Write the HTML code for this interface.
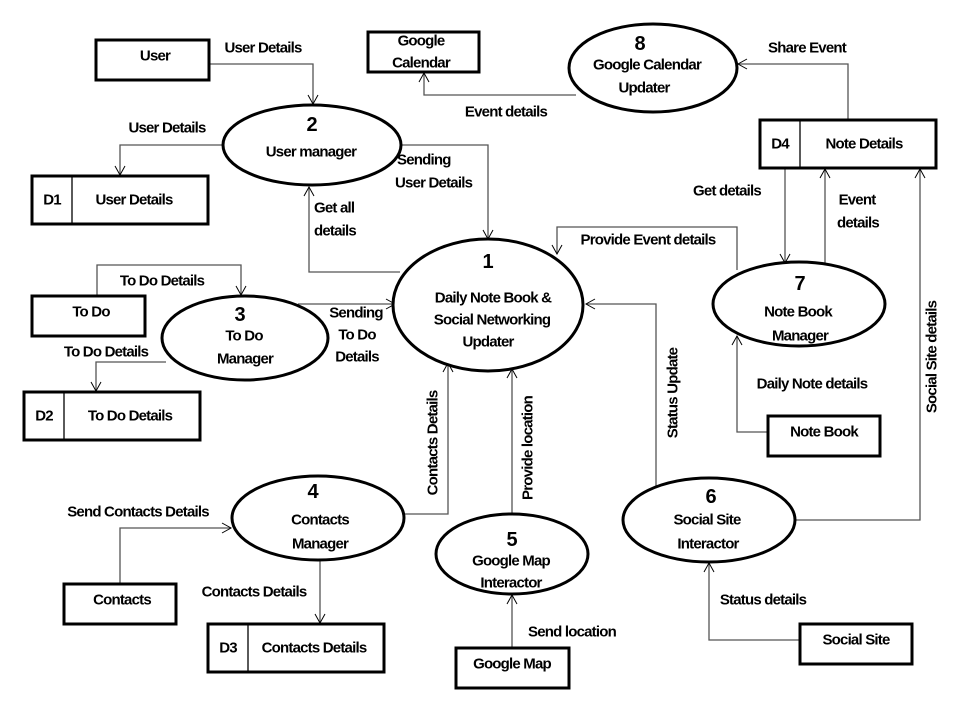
<!DOCTYPE html>
<html><head><meta charset="utf-8"><style>
html,body{margin:0;padding:0;background:#fff;}
svg{display:block;}
text{font-family:"Liberation Sans",sans-serif;font-weight:bold;font-size:15px;letter-spacing:-0.8px;fill:#000;dominant-baseline:central;text-anchor:middle;}
.n{font-size:20px;letter-spacing:0;}
.l{text-anchor:start;}
</style></head><body>
<svg width="960" height="720" viewBox="0 0 960 720" xmlns="http://www.w3.org/2000/svg">
<defs><marker id="a" markerWidth="12" markerHeight="12" refX="10" refY="6" orient="auto" markerUnits="userSpaceOnUse"><path d="M1,1 L10,6 L1,11" fill="none" stroke="#000" stroke-width="1"/></marker></defs>
<g fill="none" stroke="#555" stroke-width="1.3" marker-end="url(#a)">
<polyline points="209,64 313,64 313,104"/>
<polyline points="576,95 424,95 424,73"/>
<polyline points="848,120 848,64 738,64"/>
<polyline points="224,145 120,145 120,175"/>
<polyline points="401,145 488,145 488,239"/>
<polyline points="400,272 309,272 309,187"/>
<polyline points="97,296 97,265 241,265 241,295"/>
<polyline points="166,362 96,362 96,391"/>
<polyline points="298,304 395,304"/>
<polyline points="403,514 448,514 448,363"/>
<polyline points="120,584 120,528 231,528"/>
<polyline points="320,560 320,623"/>
<polyline points="512,514 512,369"/>
<polyline points="512,648 512,595"/>
<polyline points="656,490 656,304 586,304"/>
<polyline points="795,520 920,520 920,169"/>
<polyline points="800,640 709,640 709,563"/>
<polyline points="785,168 785,263"/>
<polyline points="825,264 825,169"/>
<polyline points="737,270 737,227 557,227 557,254"/>
<polyline points="768,432 737,432 737,336"/>
</g>
<g fill="none" stroke="#000" stroke-width="3">
<rect x="96" y="40" width="113" height="40"/>
<rect x="368" y="32" width="111" height="40"/>
<rect x="32" y="176" width="176" height="48"/>
<rect x="32" y="296" width="113" height="40"/>
<rect x="24" y="392" width="176" height="48"/>
<rect x="64" y="584" width="112" height="40"/>
<rect x="208" y="624" width="176" height="48"/>
<rect x="456" y="648" width="113" height="40"/>
<rect x="800" y="624" width="112" height="40"/>
<rect x="760" y="120" width="176" height="48"/>
<rect x="768" y="416" width="112" height="40"/>
</g>
<g fill="#fff" stroke="#000" stroke-width="3">
<ellipse cx="653" cy="68" rx="84" ry="44"/>
<ellipse cx="312" cy="145" rx="89" ry="40"/>
<ellipse cx="488" cy="305" rx="95" ry="66"/>
<ellipse cx="245" cy="338" rx="83" ry="42"/>
<ellipse cx="318" cy="518" rx="86" ry="42"/>
<ellipse cx="512" cy="554" rx="76" ry="40"/>
<ellipse cx="709" cy="520" rx="86" ry="42"/>
<ellipse cx="799" cy="304" rx="86" ry="42"/>
</g>
<g stroke="#000" stroke-width="1.3">
<line x1="72" y1="176" x2="72" y2="224"/>
<line x1="64" y1="392" x2="64" y2="440"/>
<line x1="248" y1="624" x2="248" y2="672"/>
<line x1="800" y1="120" x2="800" y2="168"/>
</g>
<text x="155" y="56">User</text>
<text x="421" y="41">Google</text><text x="421" y="63">Calendar</text>
<text class="n" x="640" y="44">8</text><text x="647" y="65">Google Calendar</text><text x="644" y="88">Updater</text>
<text x="263" y="48">User Details</text>
<text x="506" y="112">Event details</text>
<text x="807" y="48">Share Event</text>
<text class="n" x="312" y="125">2</text><text x="311" y="152">User manager</text>
<text x="167" y="128">User Details</text>
<text x="52" y="200">D1</text><text x="134" y="200">User Details</text>
<text class="l" x="397" y="160">Sending</text><text class="l" x="395" y="183">User Details</text>
<text class="l" x="314" y="208">Get all</text><text class="l" x="314" y="231">details</text>
<text class="n" x="488" y="262">1</text>
<text x="493" y="298">Daily Note Book &amp;</text><text x="492" y="320">Social Networking</text><text x="488" y="342">Updater</text>
<text x="91" y="312">To Do</text>
<text x="162" y="281">To Do Details</text>
<text class="n" x="240" y="315">3</text><text x="244" y="336">To Do</text><text x="245" y="359">Manager</text>
<text x="106" y="352">To Do Details</text>
<text x="44" y="416">D2</text><text x="130" y="416">To Do Details</text>
<text x="356" y="313">Sending</text><text x="357" y="335">To Do</text><text x="357" y="357">Details</text>
<text transform="translate(433,443) rotate(-90)">Contacts Details</text>
<text class="n" x="313" y="492">4</text><text x="320" y="520">Contacts</text><text x="320" y="544">Manager</text>
<text x="138" y="512">Send Contacts Details</text>
<text x="122" y="600">Contacts</text>
<text x="254" y="592">Contacts Details</text>
<text x="228" y="648">D3</text><text x="314" y="648">Contacts Details</text>
<text class="n" x="512" y="540">5</text><text x="511" y="561">Google Map</text><text x="511" y="583">Interactor</text>
<text transform="translate(528,448) rotate(-90)">Provide location</text>
<text x="512" y="664">Google Map</text>
<text x="572" y="632">Send location</text>
<text class="n" x="711" y="497">6</text><text x="707" y="520">Social Site</text><text x="708" y="544">Interactor</text>
<text transform="translate(673,393) rotate(-90)">Status Update</text>
<text transform="translate(932,357) rotate(-90)">Social Site details</text>
<text x="856" y="640">Social Site</text>
<text x="763" y="600">Status details</text>
<text x="780" y="144">D4</text><text x="864" y="144">Note Details</text>
<text x="727" y="191">Get details</text>
<text x="857" y="200">Event</text><text x="858" y="223">details</text>
<text class="n" x="800" y="284">7</text><text x="798" y="312">Note Book</text><text x="800" y="336">Manager</text>
<text x="648" y="240">Provide Event details</text>
<text x="824" y="432">Note Book</text>
<text x="812" y="384">Daily Note details</text>
</svg>
</body></html>
